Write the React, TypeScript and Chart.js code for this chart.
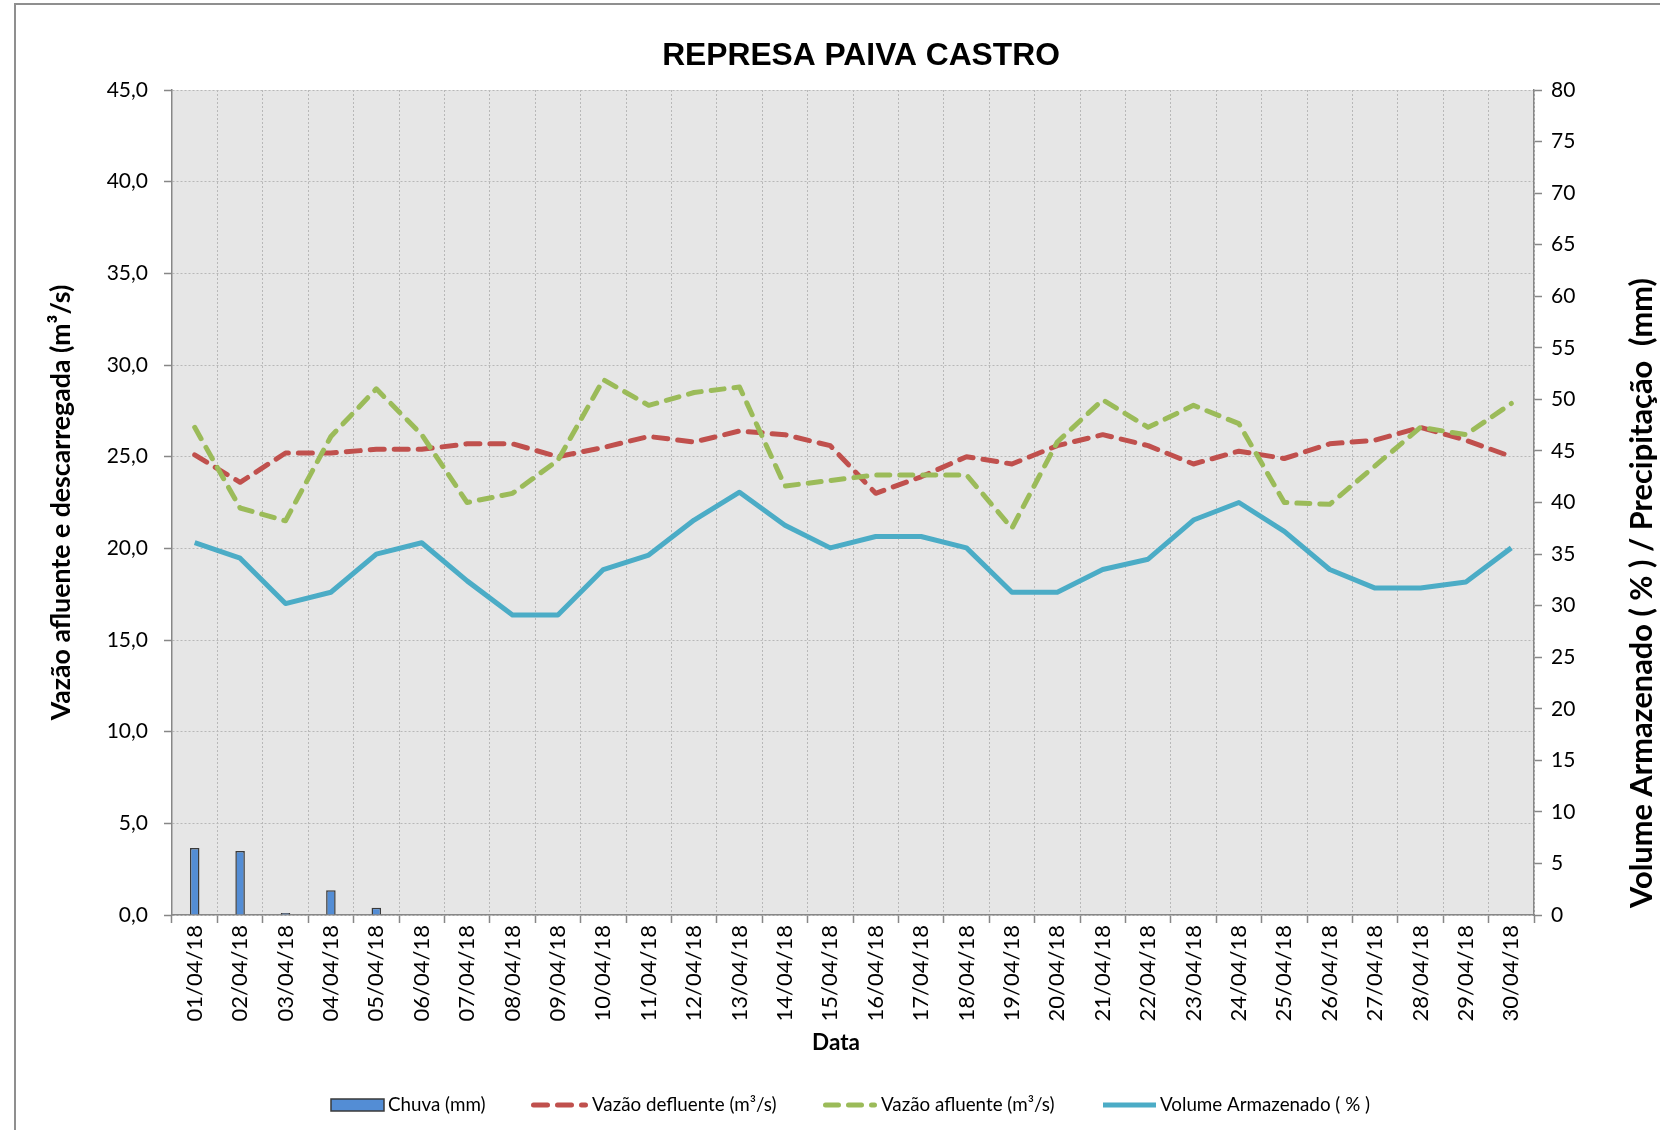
import React, { useEffect, useRef } from 'react';
import { Chart, registerables } from 'chart.js';

Chart.register(...registerables);

const chartTitle = 'REPRESA PAIVA CASTRO';
const leftAxisTitle = 'Vazão afluente e descarregada (m³/s)';
const rightAxisTitle = 'Volume Armazenado ( % ) / Precipitação  (mm)';
const xAxisTitle = 'Data';

const dates = [
  '01/04/18', '02/04/18', '03/04/18', '04/04/18', '05/04/18', '06/04/18', '07/04/18', '08/04/18', '09/04/18', '10/04/18',
  '11/04/18', '12/04/18', '13/04/18', '14/04/18', '15/04/18', '16/04/18', '17/04/18', '18/04/18', '19/04/18', '20/04/18',
  '21/04/18', '22/04/18', '23/04/18', '24/04/18', '25/04/18', '26/04/18', '27/04/18', '28/04/18', '29/04/18', '30/04/18',
];

const chuva = [6.5, 6.2, 0.2, 2.4, 0.7, 0, 0, 0, 0, 0, 0, 0, 0, 0, 0, 0, 0, 0, 0, 0, 0, 0, 0, 0, 0, 0, 0, 0, 0, 0];

const vazaoDefluente = [
  25.1, 23.6, 25.2, 25.2, 25.4, 25.4, 25.7, 25.7, 25.0, 25.5,
  26.1, 25.8, 26.4, 26.2, 25.6, 23.0, 23.9, 25.0, 24.6, 25.6,
  26.2, 25.6, 24.6, 25.3, 24.9, 25.7, 25.9, 26.6, 25.9, 25.0,
];

const vazaoAfluente = [
  26.6, 22.2, 21.5, 26.1, 28.7, 26.2, 22.5, 23.0, 24.8, 29.2,
  27.8, 28.5, 28.8, 23.4, 23.7, 24.0, 24.0, 24.0, 21.1, 25.8,
  28.1, 26.6, 27.8, 26.8, 22.5, 22.4, 24.5, 26.6, 26.2, 27.9,
];

const volumeArmazenado = [
  36.1, 34.6, 30.2, 31.3, 35.0, 36.1, 32.4, 29.1, 29.1, 33.5,
  34.9, 38.3, 41.0, 37.8, 35.6, 36.7, 36.7, 35.6, 31.3, 31.3,
  33.5, 34.5, 38.3, 40.0, 37.2, 33.5, 31.7, 31.7, 32.3, 35.6,
];

const legendLabels = ['Chuva (mm)', 'Vazão defluente (m³/s)', 'Vazão afluente (m³/s)', 'Volume Armazenado ( % )'];

const FONT = 'Lato';
const TITLE_FONT = '"Liberation Sans", Arial, sans-serif';

function fitSize(text: string, weight: string, family: string, target: number): number {
  const c = document.createElement('canvas').getContext('2d');
  if (!c) return 20;
  c.font = `${weight} 100px ${family}`;
  const w = c.measureText(text).width;
  return w > 0 ? (100 * target) / w : 20;
}

export default function App() {
  const ref = useRef<HTMLCanvasElement>(null);

  useEffect(() => {
    const canvas = ref.current;
    if (!canvas) return;

    const titleSize = fitSize(chartTitle, 'bold', TITLE_FONT, 398);
    const leftTitleSize = fitSize(leftAxisTitle, 'bold', FONT, 436);
    const rightTitleSize = fitSize(rightAxisTitle, 'bold', FONT, 630);

    const decor = {
      id: 'decor',
      beforeDraw(chart: any) {
        const { ctx, chartArea: a, width, height } = chart;
        ctx.save();
        ctx.fillStyle = '#ffffff';
        ctx.fillRect(0, 0, width, height);
        ctx.strokeStyle = '#8f8f8f';
        ctx.lineWidth = 2;
        ctx.strokeRect(15, 4, width + 100, height + 100);
        ctx.fillStyle = '#e6e6e6';
        ctx.fillRect(a.left, a.top, a.right - a.left, a.bottom - a.top);
        ctx.restore();
      },
      afterDraw(chart: any) {
        const { ctx } = chart;
        ctx.save();
        ctx.fillStyle = '#000';
        ctx.textAlign = 'center';
        ctx.textBaseline = 'middle';

        // chart title
        ctx.font = `bold ${titleSize}px ${TITLE_FONT}`;
        ctx.fillText(chartTitle, 861, 56);

        // x axis title
        ctx.font = `bold 22.5px ${FONT}`;
        ctx.fillText(xAxisTitle, 836, 1043);

        // right axis title (reads bottom to top)
        ctx.save();
        ctx.translate(1642, 593);
        ctx.rotate(-Math.PI / 2);
        ctx.font = `bold ${rightTitleSize}px ${FONT}`;
        ctx.fillText(rightAxisTitle, 0, 0);
        ctx.restore();

        // legend
        const ds = chart.data.datasets;
        const yc = 1105;
        const items = [
          { x0: 331, x1: 384 },
          { x0: 531, x1: 588 },
          { x0: 823, x1: 877 },
          { x0: 1103, x1: 1156 },
        ];
        ctx.font = `18.8px ${FONT}`;
        ctx.textAlign = 'left';
        ctx.textBaseline = 'middle';
        items.forEach((it, i) => {
          const d = ds[i];
          ctx.save();
          if (i === 0) {
            ctx.fillStyle = d.backgroundColor;
            ctx.fillRect(it.x0, yc - 6, it.x1 - it.x0, 12);
            ctx.strokeStyle = d.borderColor;
            ctx.lineWidth = 1.5;
            ctx.strokeRect(it.x0, yc - 6, it.x1 - it.x0, 12);
          } else {
            ctx.strokeStyle = d.borderColor;
            ctx.lineWidth = d.borderWidth;
            ctx.lineCap = d.borderCapStyle || 'butt';
            ctx.setLineDash(d.borderDash || []);
            ctx.beginPath();
            const inset = ctx.lineCap === 'round' ? d.borderWidth / 2 : 0;
            ctx.moveTo(it.x0 + inset, yc);
            ctx.lineTo(it.x1 - inset, yc);
            ctx.stroke();
          }
          ctx.restore();
          ctx.fillStyle = '#000';
          ctx.fillText(legendLabels[i], it.x1 + 4, yc);
        });
        ctx.restore();
      },
    };

    const gridColor = '#b8b8b8';
    const axisColor = '#878787';

    const chart = new Chart(canvas, {
      type: 'bar',
      data: {
        labels: dates,
        datasets: [
          {
            type: 'bar',
            label: legendLabels[0],
            data: chuva,
            yAxisID: 'y1',
            backgroundColor: '#538dd5',
            borderColor: '#3a3a3a',
            borderWidth: 1.5,
            borderSkipped: 'start',
            barPercentage: 0.21,
            categoryPercentage: 1,
            order: 4,
          } as any,
          {
            type: 'line',
            label: legendLabels[1],
            data: vazaoDefluente,
            yAxisID: 'y',
            borderColor: '#c0504d',
            backgroundColor: '#c0504d',
            borderWidth: 5,
            borderDash: [14, 10],
            borderCapStyle: 'round',
            borderJoinStyle: 'round',
            pointRadius: 0,
            tension: 0,
            fill: false,
            order: 3,
          } as any,
          {
            type: 'line',
            label: legendLabels[2],
            data: vazaoAfluente,
            yAxisID: 'y',
            borderColor: '#9bbb59',
            backgroundColor: '#9bbb59',
            borderWidth: 5,
            borderDash: [13, 10],
            borderCapStyle: 'round',
            borderJoinStyle: 'round',
            pointRadius: 0,
            tension: 0,
            fill: false,
            order: 2,
          } as any,
          {
            type: 'line',
            label: legendLabels[3],
            data: volumeArmazenado,
            yAxisID: 'y1',
            borderColor: '#4bacc6',
            backgroundColor: '#4bacc6',
            borderWidth: 5,
            borderCapStyle: 'butt',
            borderJoinStyle: 'round',
            pointRadius: 0,
            tension: 0,
            fill: false,
            order: 1,
          } as any,
        ],
      },
      options: {
        animation: false,
        responsive: false,
        devicePixelRatio: 1,
        layout: { padding: { left: 0, right: 0, top: 90, bottom: 0 } },
        plugins: {
          legend: { display: false },
          title: { display: false },
          tooltip: { enabled: false },
        },
        scales: {
          x: {
            offset: true,
            grid: {
              offset: true,
              color: gridColor,
              lineWidth: 1,
              tickLength: 8,
              tickColor: axisColor,
              tickBorderDash: [],
              tickWidth: 1.5,
            } as any,
            border: { color: axisColor, width: 1.5, dash: [2, 2] },
            ticks: {
              color: '#000',
              font: { family: FONT, size: 22 },
              maxRotation: 90,
              minRotation: 90,
              autoSkip: false,
              padding: 2,
            },
            afterFit: (s: any) => { s.height = 215; },
          } as any,
          y: {
            position: 'left',
            min: 0,
            max: 45,
            grid: {
              color: gridColor,
              lineWidth: 1,
              tickLength: 8,
              tickColor: axisColor,
              tickBorderDash: [],
              tickWidth: 1.5,
            } as any,
            border: { color: axisColor, width: 1.5, dash: [2, 2] },
            ticks: {
              stepSize: 5,
              color: '#000',
              font: { family: FONT, size: 21 },
              padding: 16,
              callback: (v: any) => Number(v).toFixed(1).replace('.', ','),
            },
            title: {
              display: true,
              text: leftAxisTitle,
              color: '#000',
              font: { family: FONT, size: leftTitleSize, weight: 'bold' },
              padding: { top: 61 - leftTitleSize * 0.6, bottom: 0 },
            },
            afterFit: (s: any) => { s.width = 172; },
          } as any,
          y1: {
            position: 'right',
            min: 0,
            max: 80,
            grid: {
              drawOnChartArea: false,
              tickLength: 8,
              tickColor: axisColor,
              tickBorderDash: [],
              tickWidth: 1.5,
            } as any,
            border: { color: axisColor, width: 1.5 },
            ticks: {
              stepSize: 5,
              color: '#000',
              font: { family: FONT, size: 21 },
              padding: 9,
            },
            afterFit: (s: any) => { s.width = 126; },
          } as any,
        },
      },
      plugins: [decor],
    });

    return () => chart.destroy();
  }, []);

  return (
    <div style={{ position: 'absolute', left: 0, top: 0, width: 1660, height: 1130 }}>
      <canvas ref={ref} width={1660} height={1130} style={{ width: 1660, height: 1130, display: 'block' }} />
    </div>
  );
}
